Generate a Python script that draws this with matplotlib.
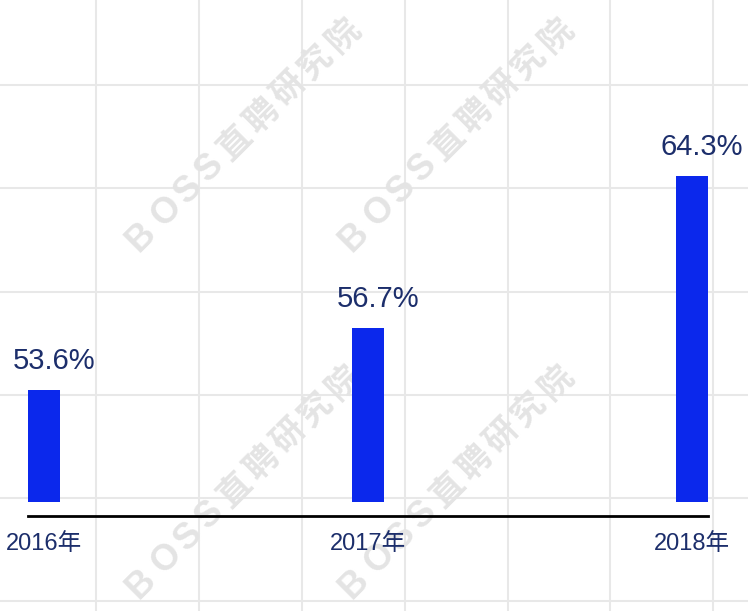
import numpy as np
import matplotlib
matplotlib.use("Agg")
import matplotlib.pyplot as plt

# ---- data ----
years = ["2016年", "2017年", "2018年"]
values = [53.6, 56.7, 64.3]
watermark = "BOSS直聘研究院"

plt.rcParams['font.family'] = ['Liberation Sans', 'Noto Sans CJK SC', 'DejaVu Sans']

W, H = 748, 611
fig = plt.figure(figsize=(W / 100, H / 100), dpi=100)
fig.patch.set_facecolor('white')

# ---- background grid + watermark (pixel coordinates) ----
bg = fig.add_axes([0, 0, 1, 1], zorder=0)
bg.set_xlim(0, W)
bg.set_ylim(H, 0)
bg.axis('off')
grid_color = '#e8e8e8'
for gx in np.arange(96.5, W, 102.8):
    bg.axvline(gx, color=grid_color, lw=1.5, zorder=0)
for gy in np.arange(-18, H, 103.2):
    bg.axhline(gy, color=grid_color, lw=1.5, zorder=0)

# character advances along the watermark line (pixels)
advances = [36, 31, 31, 35, 38, 38, 38, 39]
offs = np.concatenate([[0], np.cumsum(advances)])
offs = offs - offs[-1] / 2
centers = [(242, 136), (455, 136), (242, 483), (455, 483)]
c = np.cos(np.deg2rad(45))
for cx, cy in centers:
    for ch, o in zip(watermark, offs):
        latin = ch.isascii()
        bg.text(cx + o * c, cy - o * c, ch, rotation=45, rotation_mode='anchor',
                ha='center', va='center', fontsize=26 if latin else 24, color='#e4e4e4',
                fontweight='bold',
                family=['Liberation Sans'] if latin else ['Noto Sans CJK SC', 'DejaVu Sans'],
                zorder=1)

# ---- main chart ----
ax = fig.add_axes([28 / W, (H - 516) / H, 680 / W, 516 / H], zorder=2)
ax.patch.set_alpha(0)
x = np.arange(len(years))
base = 48
ax.bar(x, np.array(values) - base, bottom=base, width=0.1, color='#0b28ec', zorder=3)
ax.set_xlim(-0.05, 2.05)
ax.set_ylim(47.3, 73.1)

for s in ['top', 'right', 'left']:
    ax.spines[s].set_visible(False)
ax.spines['bottom'].set_color('black')
ax.spines['bottom'].set_linewidth(2)
ax.set_yticks([])
ax.set_xticks(x)
ax.set_xticklabels(years, fontsize=17, color='#1c2e6b')
ax.tick_params(axis='x', length=0, pad=12)

for xi, v in zip(x, values):
    ax.annotate(f"{v}%", (xi, v), xytext=(7, 15), textcoords='offset points',
                ha='center', va='baseline', fontsize=21, color='#1c2e6b',
                annotation_clip=False)

fig.savefig('out.png', dpi=100)
